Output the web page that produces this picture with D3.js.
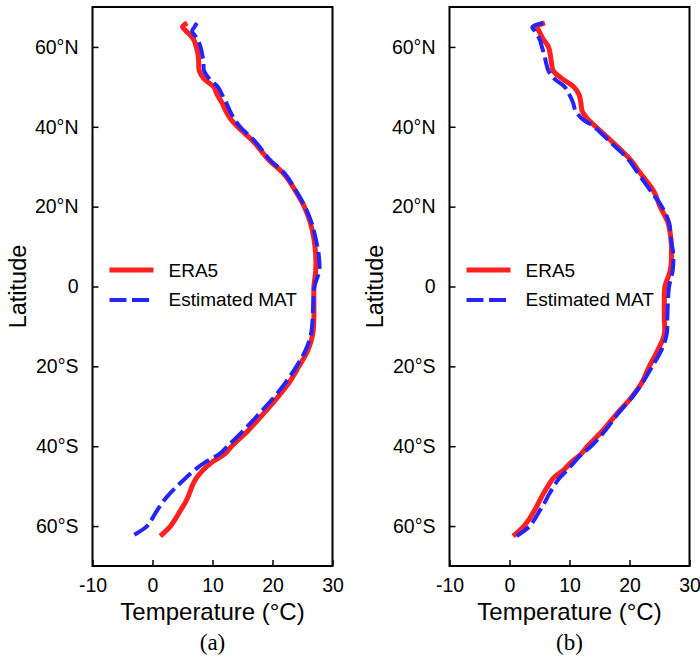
<!DOCTYPE html>
<html lang="en">
<head>
<meta charset="utf-8">
<title>ERA5 vs Estimated MAT</title>
<script src="https://d3js.org/d3.v7.min.js"></script>
<style>
  body { margin: 0; background: #fff; }
  svg text { font-family: "Liberation Sans", Arial, sans-serif; fill: #000; }
</style>
</head>
<body>
<svg id="chart" width="700" height="658"></svg>
<script>
// latitude grid shared by all curves (deg, + north)
var lat = [66, 65, 64, 62, 60, 58, 56, 54, 52, 50, 48, 46, 44, 42, 40, 36, 32, 28, 24, 20,
           16, 12, 8, 4, 0, -4, -8, -12, -16, -20, -24, -28, -32, -36, -40, -42, -44, -46,
           -48, -50, -52, -54, -56, -58, -60, -62.5];

// panel (a)
var era5A = [5.8, 5.0, 5.6, 6.8, 7.3, 7.6, 7.7, 7.8, 8.6, 10.2, 10.8, 11.6, 12.2, 13.0, 14.2, 17.0, 19.2, 22.0, 23.8, 25.3,
             26.3, 26.9, 27.2, 27.2, 26.9, 26.9, 26.9, 26.7, 25.9, 24.4, 22.8, 20.7, 18.4, 16.0, 13.2, 12.0, 9.9, 8.4,
             7.3, 6.6, 6.1, 5.5, 4.7, 3.9, 3.0, 1.3];
var matA  = [7.4, 7.0, 6.6, 7.5, 8.0, 8.3, 8.5, 8.6, 9.5, 10.9, 11.6, 12.3, 12.9, 13.6, 14.6, 17.3, 19.4, 22.2, 23.9, 25.4,
             26.5, 27.2, 27.7, 27.8, 27.0, 26.8, 26.7, 26.4, 25.5, 24.0, 22.2, 20.1, 17.7, 15.2, 12.5, 11.1, 8.8, 7.0,
             5.5, 4.1, 2.8, 1.7, 0.8, 0.0, -0.9, -3.4];

// panel (b)
var era5B = [5.9, 4.6, 4.9, 5.6, 6.5, 6.8, 7.0, 7.3, 8.8, 10.7, 11.6, 11.9, 12.1, 13.0, 14.4, 17.3, 20.0, 22.0, 24.0, 25.1,
             26.4, 26.9, 27.0, 26.8, 25.9, 25.8, 25.8, 25.8, 24.7, 23.3, 22.1, 20.2, 17.8, 15.6, 13.0, 11.9, 10.3, 9.0,
             7.3, 6.4, 5.6, 4.9, 4.2, 3.4, 2.4, 0.6];
var matB  = [5.6, 3.8, 4.2, 5.0, 5.4, 5.8, 6.1, 6.5, 7.5, 9.2, 10.0, 10.6, 11.0, 12.1, 14.1, 16.9, 19.7, 21.6, 23.5, 25.4,
             26.6, 26.9, 27.3, 27.2, 26.6, 26.4, 26.3, 26.2, 25.3, 23.8, 22.2, 20.3, 18.0, 16.0, 13.6, 12.0, 10.8, 9.6,
             8.3, 7.4, 6.6, 5.9, 5.1, 4.3, 3.4, 1.2];

var xTicks = [-10, 0, 10, 20, 30];
var yTicks = [60, 40, 20, 0, -20, -40, -60];
var seriesNames = ["ERA5", "Estimated MAT"];
var panelLabels = ["(a)", "(b)"];

var svg = d3.select("#chart");
var W = 240, H = 559, TOP = 7;

function latText(d) {
  if (d === 0) return "0";
  return Math.abs(d) + "\u00b0" + (d > 0 ? "N" : "S");
}

function drawPanel(left, era5, mat, label) {
  var x = d3.scaleLinear().domain([-10, 30]).range([0, W]);
  var y = d3.scaleLinear().domain([-70, 70]).range([H, 0]);
  var g = svg.append("g").attr("transform", "translate(" + left + "," + TOP + ")");

  var xAxis = g.append("g").attr("transform", "translate(0," + H + ")")
    .call(d3.axisBottom(x).tickValues(xTicks).tickFormat(function (d) { return String(d); })
      .tickSize(-6).tickPadding(12));
  var yAxis = g.append("g")
    .call(d3.axisLeft(y).tickValues(yTicks).tickFormat(latText).tickSize(-6).tickPadding(14));
  [xAxis, yAxis].forEach(function (a) {
    a.select(".domain").remove();
    a.selectAll(".tick line").attr("stroke", "#000").attr("stroke-width", 1.5);
    a.selectAll(".tick text").style("font-size", "19.5px").attr("fill", "#000")
      .style("font-family", "'Liberation Sans', Arial, sans-serif");
  });
  xAxis.selectAll(".tick text").attr("dy", "0.71em");

  var line = d3.line()
    .curve(d3.curveCatmullRom.alpha(0.5))
    .x(function (d) { return x(d[1]); })
    .y(function (d) { return y(d[0]); });

  g.append("path").datum(d3.zip(lat, era5))
    .attr("d", line).attr("fill", "none")
    .attr("stroke", "#ff2020").attr("stroke-width", 5).attr("stroke-linejoin", "round");
  g.append("path").datum(d3.zip(lat, mat))
    .attr("d", line).attr("fill", "none")
    .attr("stroke", "#2424ff").attr("stroke-width", 4).attr("stroke-dasharray", "17,5.5");

  // frame
  g.append("rect").attr("width", W).attr("height", H)
    .attr("fill", "none").attr("stroke", "#000").attr("stroke-width", 2);

  // legend
  var leg = g.append("g").attr("transform", "translate(17,263)");
  leg.append("line").attr("x1", 0).attr("x2", 44).attr("y1", 0).attr("y2", 0)
    .attr("stroke", "#ff2020").attr("stroke-width", 5);
  leg.append("line").attr("x1", 0).attr("x2", 44).attr("y1", 30).attr("y2", 30)
    .attr("stroke", "#2424ff").attr("stroke-width", 4).attr("stroke-dasharray", "17,5.5");
  leg.selectAll("text").data(seriesNames).enter().append("text")
    .attr("x", 59).attr("y", function (d, i) { return 7 + i * 29; })
    .style("font-size", "19px").text(function (d) { return d; });

  // axis titles
  g.append("text").attr("x", W / 2).attr("y", 613).attr("text-anchor", "middle")
    .style("font-size", "24px").text("Temperature (\u00b0C)");
  g.append("text").attr("transform", "translate(-67," + (H / 2) + ") rotate(-90)")
    .attr("text-anchor", "middle").style("font-size", "23.5px").text("Latitude");
  g.append("text").attr("x", W / 2).attr("y", 643).attr("text-anchor", "middle")
    .style("font-family", "'Liberation Serif', 'Times New Roman', serif")
    .style("font-size", "23px").text(label);
}

drawPanel(92.5, era5A, matA, panelLabels[0]);
drawPanel(449.5, era5B, matB, panelLabels[1]);
</script>
</body>
</html>
